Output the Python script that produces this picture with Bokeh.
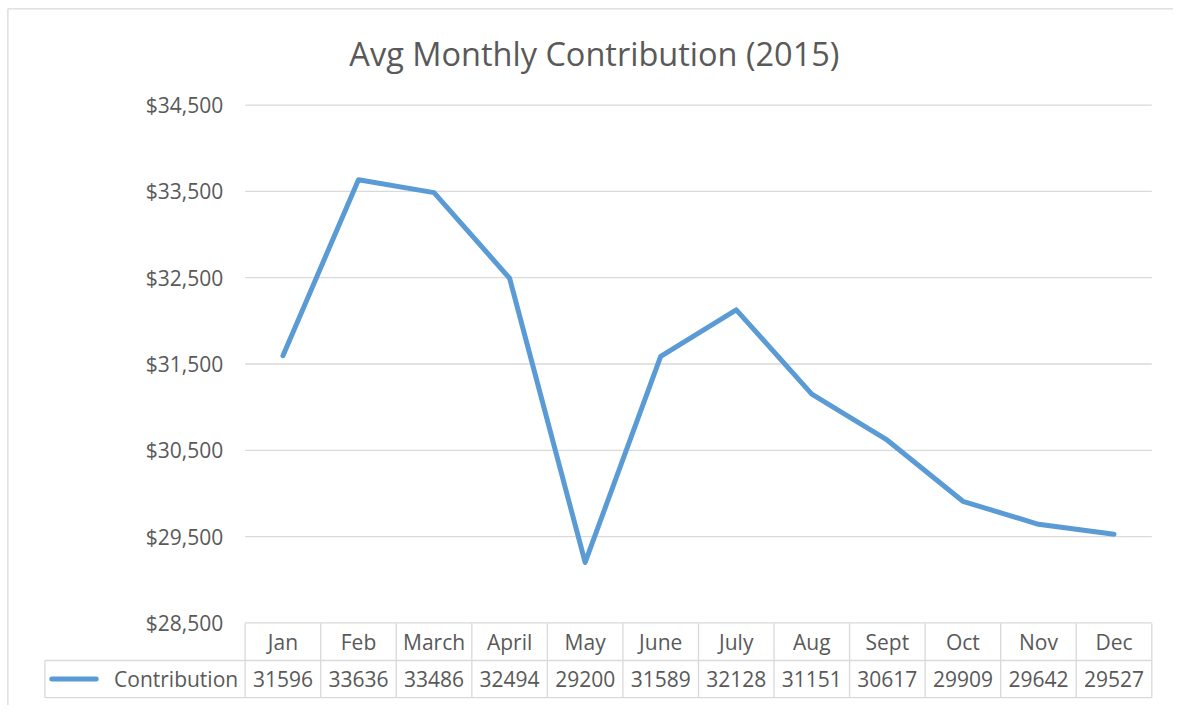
from bokeh.plotting import figure
from bokeh.models import Range1d
from bokeh.embed import file_html
from bokeh.resources import INLINE
from bokeh.core.properties import value

# ---------------- data ----------------
months = ["Jan", "Feb", "March", "April", "May", "June", "July", "Aug", "Sept", "Oct", "Nov", "Dec"]
contribution = [31596, 33636, 33486, 32494, 29200, 31589, 32128, 31151, 30617, 29909, 29642, 29527]
y_ticks = [28500, 29500, 30500, 31500, 32500, 33500, 34500]
series_name = "Contribution"
title_text = "Avg Monthly Contribution (2015)"

# ---------------- layout ----------------
W, H = 1173, 705
SX, SY = W / 1189.0, H / 721.0

plot_left_px = 248 * SX
plot_right_px = 1167 * SX
col_px = (plot_right_px - plot_left_px) / 12.0
y_top_px = 107 * SY          # top tick
y_bot_px = 636.5 * SY        # bottom tick
row_px = 38 * SY             # table row height
table_bottom_px = 713 * SY
legend_left_px = 45 * SX
border_left_px = 7.5 * SX
border_top_px = 8.5 * SY

FONT = value("Open Sans")
TXT = "#595959"
GRID = "#d9d9d9"
LINE = "#5b9bd5"
FS = "21px"

n = len(months)
ymin, ymax = min(y_ticks), max(y_ticks)
ppu = (y_bot_px - y_top_px) / (ymax - ymin)

x_start = -plot_left_px / col_px
x_end = (W - plot_left_px) / col_px
y_end = ymax + y_top_px / ppu
y_start = ymin - (H - y_bot_px) / ppu

def px_to_x(px):
    return (px - plot_left_px) / col_px

def px_to_y(py):
    return ymax + (y_top_px - py) / ppu

p = figure(width=W, height=H, output_backend="svg", toolbar_location=None,
           x_range=Range1d(x_start, x_end), y_range=Range1d(y_start, y_end),
           x_axis_type=None, y_axis_type=None, min_border=0)
# table range: 0 at table bottom, 1 per row
p.extra_y_ranges = {"table": Range1d(-(H - table_bottom_px) / row_px, table_bottom_px / row_px)}
p.outline_line_color = None
p.background_fill_color = "white"
p.border_fill_color = "white"

# chart border (top and left)
bx, by = px_to_x(border_left_px), px_to_y(border_top_px)
p.segment(x0=[bx, bx], x1=[x_end + 1, bx], y0=[by, by], y1=[by, y_start - 1000],
          line_color=GRID, line_width=1.3)

# gridlines
p.segment(x0=[0] * len(y_ticks), x1=[n] * len(y_ticks), y0=y_ticks, y1=y_ticks,
          line_color=GRID, line_width=1.3)

# y tick labels
p.text(x=[0] * len(y_ticks), y=y_ticks, text=["${:,}".format(t) for t in y_ticks],
       x_offset=-22, text_align="right", text_baseline="middle",
       text_font=FONT, text_font_size=FS, text_color=TXT)

# data table lines
x_leg = px_to_x(legend_left_px)
p.segment(x0=[x_leg, x_leg], x1=[n, n], y0=[0, 1], y1=[0, 1],
          line_color=GRID, line_width=1.3, y_range_name="table")
p.segment(x0=list(range(n + 1)), x1=list(range(n + 1)), y0=[0] * (n + 1), y1=[2] * (n + 1),
          line_color=GRID, line_width=1.3, y_range_name="table")
p.segment(x0=[x_leg], x1=[x_leg], y0=[0], y1=[1],
          line_color=GRID, line_width=1.3, y_range_name="table")

centers = [i + 0.5 for i in range(n)]
p.text(x=centers, y=[1.5] * n, text=months, text_align="center", text_baseline="middle",
       text_font=FONT, text_font_size=FS, text_color=TXT, y_range_name="table")
p.text(x=centers, y=[0.5] * n, text=[str(v) for v in contribution], text_align="center",
       text_baseline="middle", text_font=FONT, text_font_size=FS, text_color=TXT,
       y_range_name="table")

# legend key in table
p.segment(x0=[px_to_x(52 * SX)], x1=[px_to_x(97 * SX)], y0=[0.5], y1=[0.5],
          line_color=LINE, line_width=5, line_cap="round", y_range_name="table")
p.text(x=[0], y=[0.5], text=[series_name], x_offset=-7, text_align="right",
       text_baseline="middle", text_font=FONT, text_font_size=FS, text_color=TXT,
       y_range_name="table")

# the series line
p.line(x=centers, y=contribution, line_color=LINE, line_width=5,
       line_join="round", line_cap="round")

# title
p.text(x=[px_to_x(602 * SX)], y=[px_to_y(54 * SY)], text=[title_text], text_align="center",
       text_baseline="middle", text_font=FONT, text_font_size="32.5px", text_color=TXT)

open("out.html", "w").write(file_html(p, INLINE))
